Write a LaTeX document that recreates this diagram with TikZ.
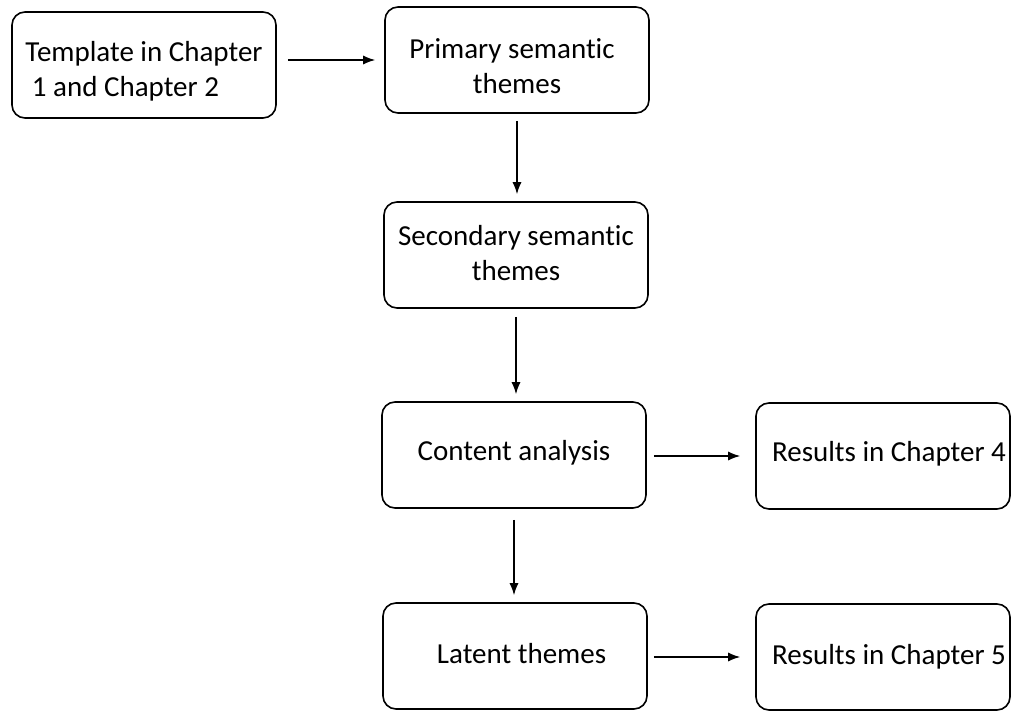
\documentclass[tikz,border=0pt]{standalone}
\usepackage{fontspec}
\setmainfont{Carlito}[RawFeature=-liga]
\usepackage{tikz}
\usetikzlibrary{arrows.meta, positioning, calc}

% invisible struts to nudge the text inside a box
\newcommand{\upstrut}[1]{\rule{0pt}{#1}}
\newcommand{\downstrut}[1]{\rule[-#1]{0pt}{#1}}

\tikzset{
  stagebox/.style={draw=black, line width=1.6pt, rounded corners=13pt, fill=white,
    minimum width=264pt, minimum height=106pt, align=center, inner sep=2pt,
    font=\fontsize{29}{35}\selectfont},
  resultbox/.style={stagebox, minimum width=254pt},
  flowarrow/.style={-{Latex[length=12pt,width=9pt]}, line width=1.3pt}
}

\begin{document}
\begin{tikzpicture}[x=1pt,y=-1pt]
  \path[use as bounding box] (0,0) rectangle (1012,711);
  % boxes
  \node[stagebox, align=left] (template) at (144,65) {\upstrut{33pt}Template in Chapter\\ \ 1 and Chapter 2};
  \node[stagebox] (primary) at (517,60) {\upstrut{32pt}Primary semantic\hspace*{10pt}\\themes};
  \node[stagebox] (secondary) at (516,255) {Secondary semantic\\themes\downstrut{4pt}};
  \node[stagebox] (content) at (514,455) {Content analysis\downstrut{10pt}};
  \node[resultbox] (resfour) at (883,456) {\hspace*{12pt}Results in Chapter 4\downstrut{10pt}};
  \node[stagebox] (latent) at (515,656) {\ \ Latent themes\downstrut{6pt}};
  \node[resultbox] (resfive) at (883,657) {\hspace*{12pt}Results in Chapter 5};
  % arrows
  \draw[flowarrow, shorten <=11pt, shorten >=9pt] (template.east |- primary.west) -- (primary.west);
  \draw[flowarrow, shorten <=7pt, shorten >=7pt] (primary.south) -- (primary.south |- secondary.north);
  \draw[flowarrow, shorten <=8pt, shorten >=7pt] (secondary.south) -- (secondary.south |- content.north);
  \draw[flowarrow, shorten <=7pt, shorten >=15pt] (content.east |- resfour.west) -- (resfour.west);
  \draw[flowarrow, shorten <=11pt, shorten >=7pt] (content.south) -- (content.south |- latent.north);
  \draw[flowarrow, shorten <=6pt, shorten >=15pt] (latent.east |- resfive.west) -- (resfive.west);
\end{tikzpicture}
\end{document}
